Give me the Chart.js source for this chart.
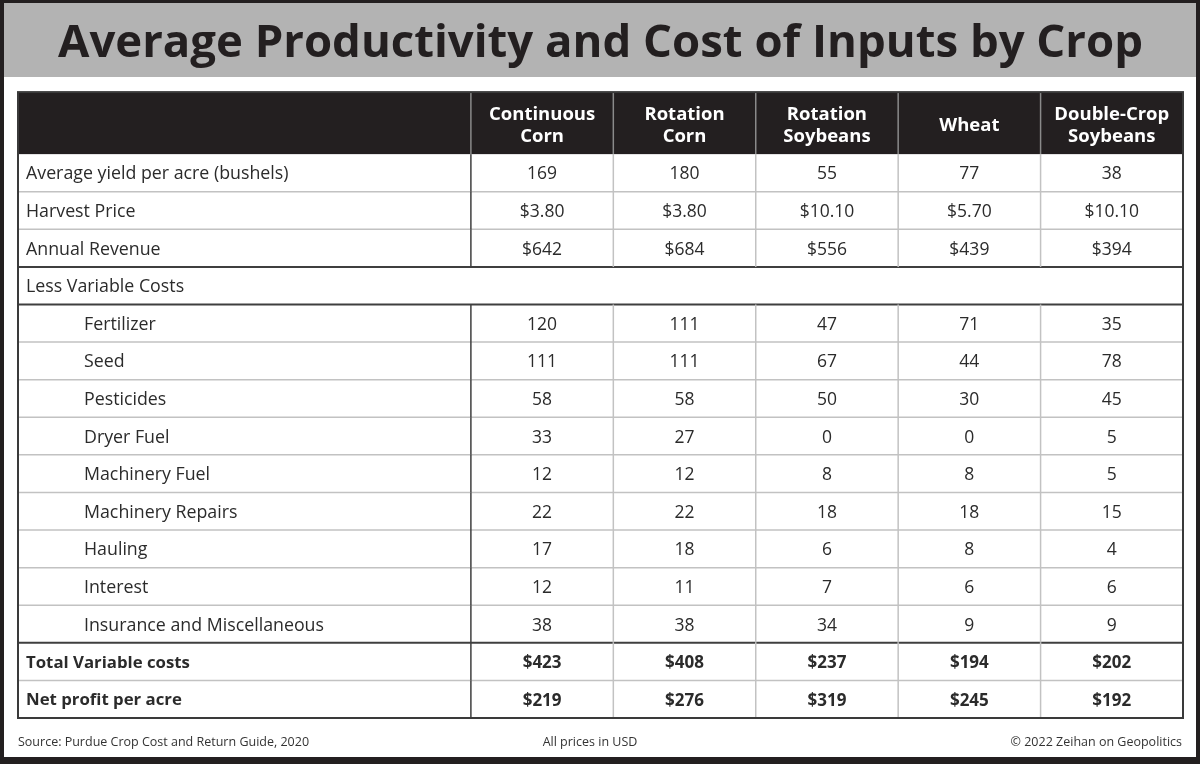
<!DOCTYPE html>
<html>
<head>
<meta charset="utf-8">
<script src="https://cdn.jsdelivr.net/npm/chart.js@4.4.1/dist/chart.umd.min.js"></script>
<style>
html,body{margin:0;padding:0;background:#231f20;}
#wrap{width:1200px;height:764px;position:relative;}
canvas{display:block;}
</style>
</head>
<body>
<div id="wrap"><canvas id="c" width="1200" height="764"></canvas></div>
<script>
// ---------- DATA ----------
const titleText = 'Average Productivity and Cost of Inputs by Crop';
const cropHeaders = [['Continuous','Corn'],['Rotation','Corn'],['Rotation','Soybeans'],['Wheat'],['Double-Crop','Soybeans']];
const rowLabels = ['Average yield per acre (bushels)','Harvest Price','Annual Revenue','Less Variable Costs',
  'Fertilizer','Seed','Pesticides','Dryer Fuel','Machinery Fuel','Machinery Repairs','Hauling','Interest',
  'Insurance and Miscellaneous','Total Variable costs','Net profit per acre'];
const yieldBushels     = [169, 180, 55, 77, 38];
const harvestPrice     = [3.80, 3.80, 10.10, 5.70, 10.10];
const annualRevenue    = [642, 684, 556, 439, 394];
const fertilizer       = [120, 111, 47, 71, 35];
const seed             = [111, 111, 67, 44, 78];
const pesticides       = [58, 58, 50, 30, 45];
const dryerFuel        = [33, 27, 0, 0, 5];
const machineryFuel    = [12, 12, 8, 8, 5];
const machineryRepairs = [22, 22, 18, 18, 15];
const hauling          = [17, 18, 6, 8, 4];
const interest         = [12, 11, 7, 6, 6];
const insuranceMisc    = [38, 38, 34, 9, 9];
const totalVariable    = [423, 408, 237, 194, 202];
const netProfit        = [219, 276, 319, 245, 192];
const footerSource = 'Source: Purdue Crop Cost and Return Guide, 2020';
const footerNote = 'All prices in USD';
const footerCopy = '\u00A9 2022 Zeihan on Geopolitics';

// ---------- TABLE MODEL (built from the arrays) ----------
const money0 = v => '$' + v;
const money2 = v => '$' + v.toFixed(2);
const plain = v => String(v);
const tableRows = [
  {label: rowLabels[0], vals: yieldBushels, fmt: plain},
  {label: rowLabels[1], vals: harvestPrice, fmt: money2},
  {label: rowLabels[2], vals: annualRevenue, fmt: money0},
  {label: rowLabels[3], vals: null, merged: true},
  {label: rowLabels[4], vals: fertilizer, fmt: plain, indent: true},
  {label: rowLabels[5], vals: seed, fmt: plain, indent: true},
  {label: rowLabels[6], vals: pesticides, fmt: plain, indent: true},
  {label: rowLabels[7], vals: dryerFuel, fmt: plain, indent: true},
  {label: rowLabels[8], vals: machineryFuel, fmt: plain, indent: true},
  {label: rowLabels[9], vals: machineryRepairs, fmt: plain, indent: true},
  {label: rowLabels[10], vals: hauling, fmt: plain, indent: true},
  {label: rowLabels[11], vals: interest, fmt: plain, indent: true},
  {label: rowLabels[12], vals: insuranceMisc, fmt: plain, indent: true},
  {label: rowLabels[13], vals: totalVariable, fmt: money0, bold: true},
  {label: rowLabels[14], vals: netProfit, fmt: money0, bold: true}
];
// row indexes after which a dark rule is drawn
const darkAfter = new Set([2, 3, 12]);

// ---------- LAYOUT (scale units) ----------
const FIRST_COL = 3.18;          // width of label column in column units
const HEADER_H = 1.65;           // header height in row units
const X_MAX = FIRST_COL + cropHeaders.length;
const Y_MAX = HEADER_H + tableRows.length;

const FONT = "'Open Sans', 'Noto Sans', sans-serif";
const DARK = '#231f20';
const TEXT_DY = 1.5;

// points placed at each value cell centre (invisible; text drawn at them)
const cellPoints = [];
tableRows.forEach((r, ri) => {
  if (!r.vals) return;
  r.vals.forEach((v, ci) => cellPoints.push({x: FIRST_COL + ci + 0.5, y: HEADER_H + ri + 0.5, text: r.fmt(v), bold: !!r.bold}));
});

const tablePlugin = {
  id: 'tablePlugin',
  beforeDraw(chart) {
    const ctx = chart.ctx;
    ctx.save();
    ctx.fillStyle = DARK;
    ctx.fillRect(0, 0, 1200, 764);
    ctx.fillStyle = '#ffffff';
    ctx.fillRect(4, 3, 1192, 754);
    ctx.fillStyle = '#b3b3b3';
    ctx.fillRect(4, 3, 1192, 74);
    ctx.restore();
  },
  afterDatasetsDraw(chart) {
    const ctx = chart.ctx;
    const xs = chart.scales.x, ys = chart.scales.y;
    const X = v => xs.getPixelForValue(v), Y = v => ys.getPixelForValue(v);
    const left = X(0), right = X(X_MAX), top = Y(0), bottom = Y(Y_MAX);
    ctx.save();
    // header background
    ctx.fillStyle = DARK;
    ctx.fillRect(left, top, right - left, Y(HEADER_H) - top);
    // header separators
    ctx.strokeStyle = '#8a8a8a';
    ctx.lineWidth = 1.5;
    for (let c = 0; c < cropHeaders.length; c++) {
      const x = X(FIRST_COL + c);
      ctx.beginPath(); ctx.moveTo(x, top); ctx.lineTo(x, Y(HEADER_H)); ctx.stroke();
    }
    // header text
    ctx.fillStyle = '#ffffff';
    ctx.font = 'bold 18.5px ' + FONT;
    ctx.textAlign = 'center';
    ctx.textBaseline = 'middle';
    cropHeaders.forEach((lines, c) => {
      const cx = X(FIRST_COL + c + 0.5);
      const cy = Y(HEADER_H / 2) + 2.5;
      const lh = 22;
      lines.forEach((t, i) => ctx.fillText(t, cx, cy + (i - (lines.length - 1) / 2) * lh));
    });
    // horizontal rules
    tableRows.forEach((r, ri) => {
      if (ri === tableRows.length - 1) return;
      const y = Y(HEADER_H + ri + 1);
      const dark = darkAfter.has(ri);
      ctx.strokeStyle = dark ? '#3f3f3f' : '#c2c2c2';
      ctx.lineWidth = dark ? 2 : 1.5;
      ctx.beginPath(); ctx.moveTo(left, y); ctx.lineTo(right, y); ctx.stroke();
    });
    // vertical rules (data rows)
    tableRows.forEach((r, ri) => {
      if (r.merged) return;
      const y0 = Y(HEADER_H + ri), y1 = Y(HEADER_H + ri + 1);
      for (let c = 0; c < cropHeaders.length; c++) {
        const x = X(FIRST_COL + c);
        ctx.strokeStyle = c === 0 ? '#3f3f3f' : '#c2c2c2';
        ctx.lineWidth = 1.5;
        ctx.beginPath(); ctx.moveTo(x, y0); ctx.lineTo(x, y1); ctx.stroke();
      }
    });
    // row labels
    ctx.fillStyle = '#2b2b2b';
    ctx.textAlign = 'left';
    tableRows.forEach((r, ri) => {
      ctx.font = (r.bold ? 'bold 16.8px ' : '17.8px ') + FONT;
      ctx.fillText(r.label, r.indent ? 84 : 26, Y(HEADER_H + ri + 0.5) + TEXT_DY);
    });
    // cell values
    ctx.textAlign = 'center';
    cellPoints.forEach(p => {
      ctx.font = (p.bold ? 'bold 17px ' : '17.5px ') + FONT;
      ctx.fillText(p.text, X(p.x), Y(p.y) + TEXT_DY);
    });
    // outer border
    ctx.strokeStyle = '#3a3a3a';
    ctx.lineWidth = 2;
    ctx.strokeRect(left, top, right - left, bottom - top);
    // footer
    ctx.fillStyle = '#333333';
    ctx.font = '12.5px ' + FONT;
    ctx.textBaseline = 'middle';
    ctx.textAlign = 'left';
    ctx.fillText(footerSource, 18, 742);
    ctx.textAlign = 'center';
    ctx.fillText(footerNote, 590, 742);
    ctx.textAlign = 'right';
    ctx.fillText(footerCopy, 1182, 742);
    ctx.restore();
  }
};

new Chart(document.getElementById('c'), {
  type: 'scatter',
  data: {
    datasets: [{
      data: cellPoints,
      pointRadius: 0,
      pointHoverRadius: 0
    }]
  },
  options: {
    responsive: false,
    animation: false,
    events: [],
    layout: {padding: {left: 18, right: 17, top: 0, bottom: 46}},
    scales: {
      x: {type: 'linear', min: 0, max: X_MAX, display: false},
      y: {type: 'linear', min: 0, max: Y_MAX, reverse: true, display: false}
    },
    plugins: {
      legend: {display: false},
      tooltip: {enabled: false},
      title: {
        display: true,
        text: titleText,
        color: DARK,
        font: {family: FONT, size: 45.5, weight: 'bold', lineHeight: 1.2},
        padding: {top: 16.5, bottom: 21}
      }
    }
  },
  plugins: [tablePlugin]
});
</script>
</body>
</html>
